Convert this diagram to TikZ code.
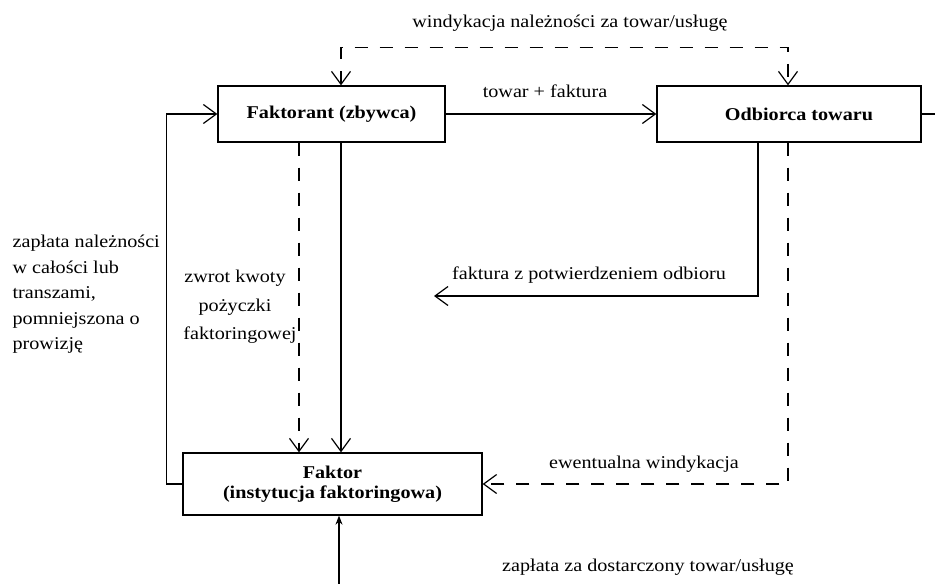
\documentclass[tikz,border=0pt]{standalone}
\usepackage{fontspec}
\setmainfont{Liberation Serif}[FakeStretch=1.12]
\usetikzlibrary{arrows.meta}
\begin{document}
\begin{tikzpicture}[x=1pt,y=-1pt,
  line width=1.2pt,
  box/.style={draw, line width=1.3pt, inner sep=0pt, font=\fontsize{18}{20}\selectfont\bfseries, align=center},
  lbl/.style={font=\fontsize{18}{20}\selectfont, inner sep=0pt, anchor=base},
  lblw/.style={lbl, anchor=base west},
  barb/.style={-{Straight Barb[length=13pt,width=19pt]}},
  dbarb/.style={{Straight Barb[length=13pt,width=19pt]}-{Straight Barb[length=13pt,width=19pt]}},
  dsh/.style={dash pattern=on 13pt off 12pt}]
\useasboundingbox (0,0) rectangle (935,584);
% boxes
\node[box, minimum width=227pt, minimum height=56pt] (F) at (331.5,114) {Faktorant (zbywca)};
\node[box, minimum width=264pt, minimum height=56pt] (O) at (789,114) {\hspace*{20pt}Odbiorca towaru};
\node[box, minimum width=299pt, minimum height=62pt] (K) at (332.5,484) {Faktor\\(instytucja faktoringowa)};
% free ends
\coordinate (Rend) at (935,114);
\coordinate (fz) at (434,296);
\coordinate (bot) at (339,584);
% connectors
\draw[barb] (F.east) -- (O.west);
\draw (O.east) -- (Rend);
\draw[dsh,dbarb] ([xshift=9.5pt]F.north) -- ++(0,-38) -| ([xshift=-1pt]O.north);
\draw[dsh,barb] ([xshift=-32.5pt]F.south) -- ([xshift=-32.5pt]F.south |- K.north);
\draw[barb] ([xshift=9.5pt]F.south) -- ([xshift=9.5pt]F.south |- K.north);
\draw[barb] ([xshift=-31pt]O.south) |- (fz);
\draw[dsh,barb] ([xshift=-1pt]O.south) |- (K.east);
\draw[barb] (K.west) -- ++(-16,0) |- (F.west);
\draw[-{Stealth[length=9pt,width=7pt]}] (bot) -- (bot |- K.south);
% labels
\node[lbl] (t1) at (570,27) {windykacja należności za towar/usługę};
\node[lbl] (t2) at (545,97) {towar + faktura};
\node[lbl] (t3) at (589,279) {faktura z potwierdzeniem odbioru};
\node[lbl] (t4) at (644,468) {ewentualna windykacja};
\node[lbl] (t5) at (648,571) {zapłata za dostarczony towar/usługę};
\node[lblw] (a1) at (12,247) {zapłata należności};
\node[lblw] (a2) at (12,273) {w całości lub};
\node[lblw] (a3) at (12,298) {transzami,};
\node[lblw] (a4) at (12,324) {pomniejszona o};
\node[lblw] (a5) at (12,349) {prowizję};
\node[lbl] (b1) at (235,282) {zwrot kwoty};
\node[lbl] (b2) at (235,311) {pożyczki};
\node[lbl] (b3) at (240,339) {faktoringowej};
\end{tikzpicture}
\end{document}
